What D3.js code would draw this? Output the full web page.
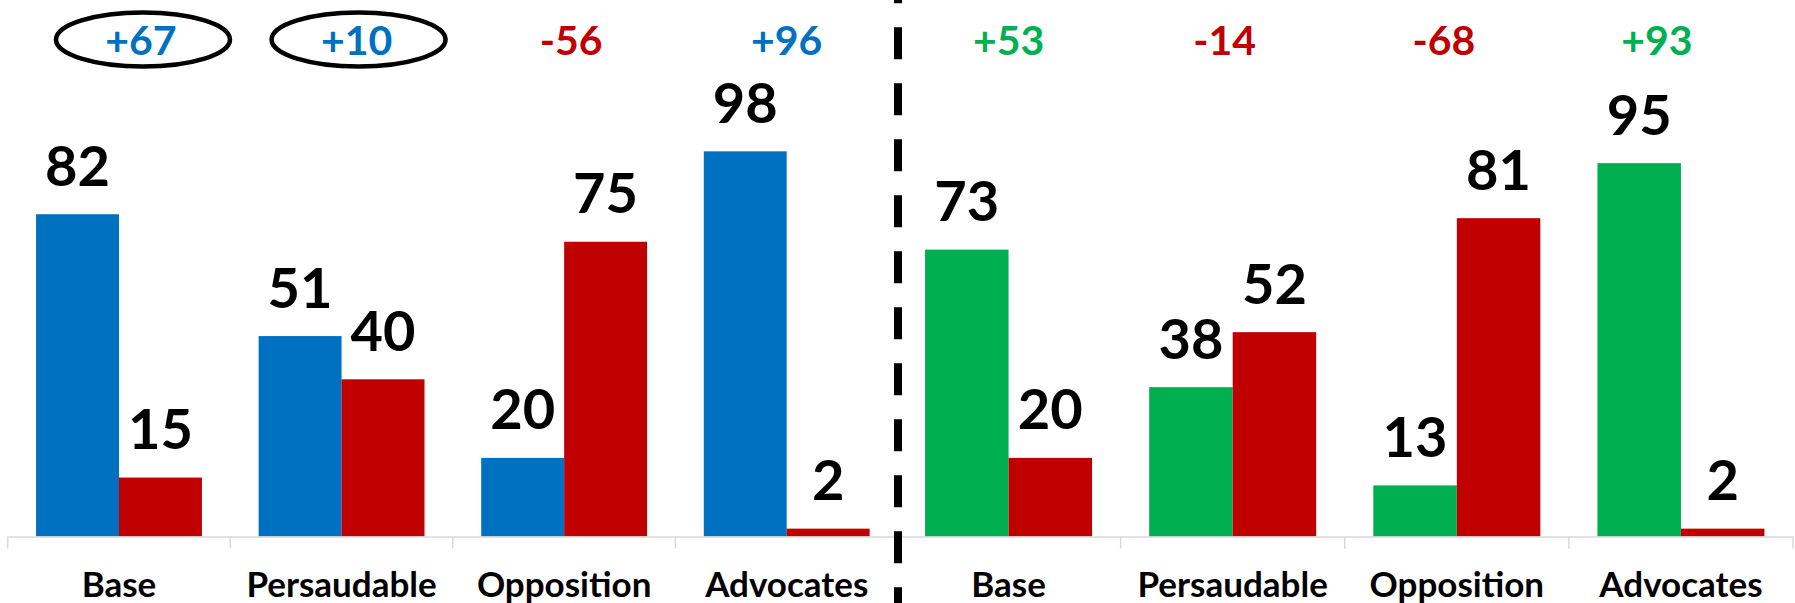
<!DOCTYPE html>
<html>
<head>
<meta charset="utf-8">
<script src="https://cdn.jsdelivr.net/npm/d3@7"></script>
<style>
  html, body { margin: 0; padding: 0; background: #fff; }
  text { font-family: Lato, "Open Sans", "Liberation Sans", sans-serif; font-weight: bold; }
</style>
</head>
<body>
<div class="chart"></div>
<script>
var width = 1795, height = 603;

// data
var groups = ["Base", "Persaudable", "Opposition", "Advocates"];
var leftFor = [82, 51, 20, 98];
var leftAgainst = [15, 40, 75, 2];
var leftNet = [67, 10, -56, 96];
var rightFor = [73, 38, 13, 95];
var rightAgainst = [20, 52, 81, 2];
var rightNet = [53, -14, -68, 93];
var circled = [true, true, false, false];

var blue = "#0070C0", red = "#C00000", green = "#00B050";

var svg = d3.select('.chart')
	.append('svg')
	.attr('width', width)
	.attr('height', height);

var y = d3.scaleLinear().domain([0, 100]).range([536.5, 143.5]);

function panel(x0, x1, forVals, againstVals, net, forColor, noteShift, rings) {
	var x = d3.scaleBand().domain(groups).range([x0, x1]);
	var xs = d3.scaleBand().domain(["for", "against"])
		.range([0, x.bandwidth()])
		.paddingOuter(0.342);

	var rows = groups.map(function(g, i) {
		return { g: g, i: i, vals: [
			{ key: "for", v: forVals[i], color: forColor },
			{ key: "against", v: againstVals[i], color: red }
		] };
	});

	var g = svg.append('g');

	var cat = g.selectAll('.cat')
		.data(rows)
		.enter().append('g')
		.attr('transform', function(d) { return 'translate(' + x(d.g) + ',0)'; });

	cat.selectAll('rect')
		.data(function(d) { return d.vals; })
		.enter().append('rect')
		.attr('x', function(d) { return xs(d.key); })
		.attr('width', xs.bandwidth())
		.attr('y', function(d) { return y(d.v); })
		.attr('height', function(d) { return y(0) - y(d.v); })
		.attr('fill', function(d) { return d.color; });

	cat.selectAll('.val')
		.data(function(d) { return d.vals; })
		.enter().append('text')
		.attr('class', 'val')
		.attr('x', function(d) { return xs(d.key) + xs.bandwidth() / 2; })
		.attr('y', function(d) { return y(d.v) - 28.5; })
		.attr('text-anchor', 'middle')
		.attr('font-size', 56)
		.attr('fill', '#000')
		.text(function(d) { return d.v; });

	// axis
	var axis = g.append('g')
		.attr('transform', 'translate(0,' + y(0) + ')')
		.call(d3.axisBottom(x).tickSize(0).tickPadding(0));
	axis.select('.domain').attr('stroke', '#d9d9d9').attr('stroke-width', 1.5);
	axis.selectAll('.tick text').remove();

	var edges = groups.map(function(d) { return x(d); }).concat([x1]);
	g.selectAll('.tk')
		.data(edges)
		.enter().append('line')
		.attr('x1', function(d) { return d; })
		.attr('x2', function(d) { return d; })
		.attr('y1', y(0))
		.attr('y2', y(0) + 12)
		.attr('stroke', '#d9d9d9')
		.attr('stroke-width', 1.5);

	g.selectAll('.lab')
		.data(groups)
		.enter().append('text')
		.attr('x', function(d) { return x(d) + x.bandwidth() / 2; })
		.attr('y', 597)
		.attr('text-anchor', 'middle')
		.attr('font-size', 35)
		.attr('fill', '#000')
		.text(function(d) { return d; });

	// net notes on top
	g.selectAll('.ring')
		.data(groups.filter(function(d, i) { return rings[i]; }))
		.enter().append('ellipse')
		.attr('cx', function(d) { return x(d) + x.bandwidth() / 2 + noteShift[groups.indexOf(d)] + 2; })
		.attr('cy', 39.5)
		.attr('rx', 87)
		.attr('ry', 27)
		.attr('fill', 'none')
		.attr('stroke', '#000')
		.attr('stroke-width', 4.5);

	g.selectAll('.net')
		.data(net)
		.enter().append('text')
		.attr('x', function(d, i) { return x(groups[i]) + x.bandwidth() / 2 + noteShift[i]; })
		.attr('y', 54.5)
		.attr('text-anchor', 'middle')
		.attr('font-size', 41)
		.attr('fill', function(d) { return d < 0 ? red : forColor; })
		.text(function(d) { return (d > 0 ? '+' : '') + d; });
}

panel(7.7, 898, leftFor, leftAgainst, leftNet, blue, [22, 15, 7, 0], circled);
panel(896.5, 1793, rightFor, rightAgainst, rightNet, green, [0, -8, -13, -24], [false, false, false, false]);

// divider
svg.append('line')
	.attr('x1', 898).attr('x2', 898)
	.attr('y1', -28.7).attr('y2', height)
	.attr('stroke', '#000')
	.attr('stroke-width', 8)
	.attr('stroke-dasharray', '32,24');
</script>
</body>
</html>
